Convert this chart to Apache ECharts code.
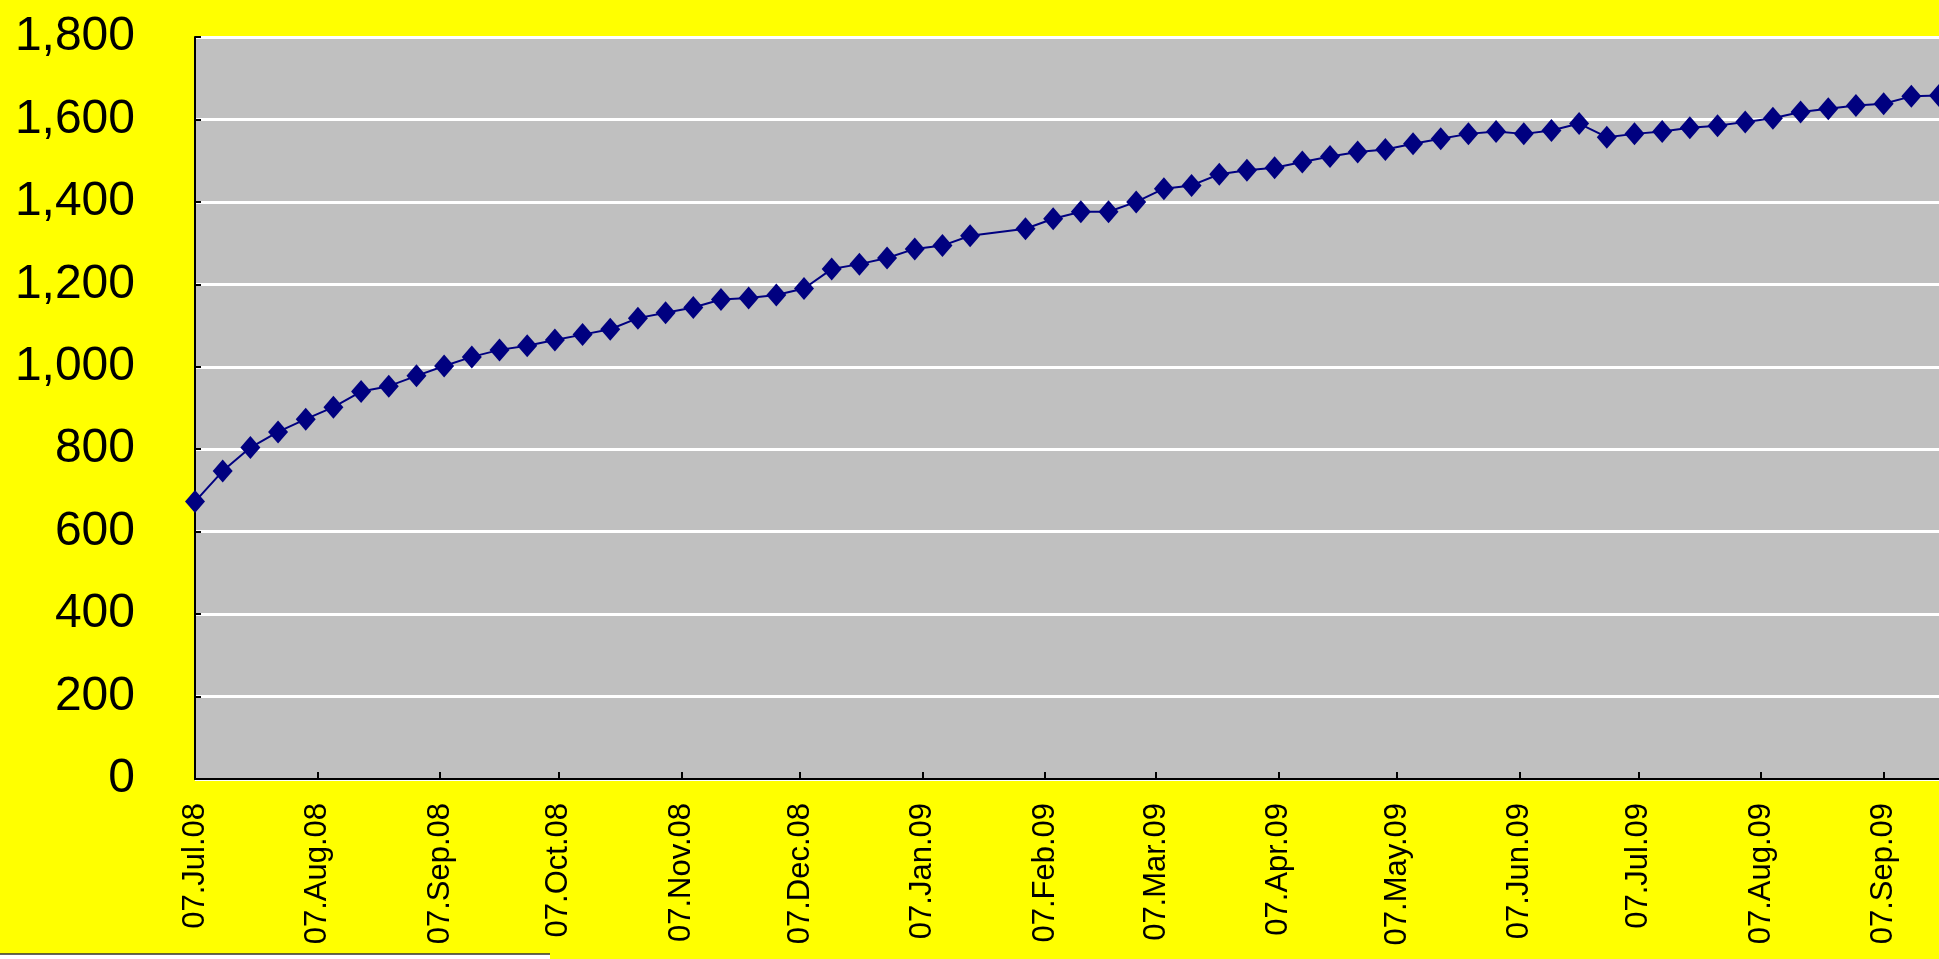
<!DOCTYPE html>
<html>
<head>
<meta charset="utf-8">
<script src="https://cdn.jsdelivr.net/npm/echarts@6/dist/echarts.min.js"></script>
<style>
html,body{margin:0;padding:0;background:#FFFF00;}
#chart{width:1939px;height:959px;}
</style>
</head>
<body>
<div id="chart"></div>
<script>
// Weekly observation dates (one week, 26 Jan 2009, has no point)
const dates = [
  "2008-07-07","2008-07-14","2008-07-21","2008-07-28","2008-08-04","2008-08-11","2008-08-18","2008-08-25",
  "2008-09-01","2008-09-08","2008-09-15","2008-09-22","2008-09-29","2008-10-06","2008-10-13","2008-10-20",
  "2008-10-27","2008-11-03","2008-11-10","2008-11-17","2008-11-24","2008-12-01","2008-12-08","2008-12-15",
  "2008-12-22","2008-12-29","2009-01-05","2009-01-12","2009-01-19","2009-02-02","2009-02-09","2009-02-16",
  "2009-02-23","2009-03-02","2009-03-09","2009-03-16","2009-03-23","2009-03-30","2009-04-06","2009-04-13",
  "2009-04-20","2009-04-27","2009-05-04","2009-05-11","2009-05-18","2009-05-25","2009-06-01","2009-06-08",
  "2009-06-15","2009-06-22","2009-06-29","2009-07-06","2009-07-13","2009-07-20","2009-07-27","2009-08-03",
  "2009-08-10","2009-08-17","2009-08-24","2009-08-31","2009-09-07","2009-09-14","2009-09-21"
];
const values = [
  673, 747, 804, 842, 873, 902, 940, 953,
  978, 1002, 1024, 1041, 1051, 1065, 1078, 1091,
  1118, 1131, 1144, 1163, 1167, 1174, 1190, 1237,
  1249, 1264, 1286, 1294, 1318, 1335, 1359, 1376,
  1376, 1400, 1432, 1440, 1467, 1477, 1483, 1497,
  1510, 1521, 1527, 1541, 1553, 1565, 1571, 1565,
  1573, 1590, 1557, 1565, 1571, 1580, 1585, 1594,
  1603, 1618, 1626, 1634, 1638, 1656, 1658
];
// Month tick labels shown on the axis
const tickLabels = [
  "07.Jul.08","07.Aug.08","07.Sep.08","07.Oct.08","07.Nov.08","07.Dec.08","07.Jan.09",
  "07.Feb.09","07.Mar.09","07.Apr.09","07.May.09","07.Jun.09","07.Jul.09","07.Aug.09","07.Sep.09"
];
const axisStart = "2008-07-07";
const axisEnd = "2009-09-21";
const yTicks = [0, 200, 400, 600, 800, 1000, 1200, 1400, 1600, 1800];

const MONTHS = ["Jan","Feb","Mar","Apr","May","Jun","Jul","Aug","Sep","Oct","Nov","Dec"];
function toUTC(s){ const p = s.split("-").map(Number); return Date.UTC(p[0], p[1]-1, p[2]); }
function fmt(t){
  const d = new Date(t);
  const dd = String(d.getUTCDate()).padStart(2,"0");
  const yy = String(d.getUTCFullYear() % 100).padStart(2,"0");
  return dd + "." + MONTHS[d.getUTCMonth()] + "." + yy;
}
const DAY = 86400000;
const t0 = toUTC(axisStart), t1 = toUTC(axisEnd);
const categories = [];
for (let t = t0; t <= t1; t += DAY) categories.push(fmt(t));
const labelSet = new Set(tickLabels);
const seriesData = dates.map((d, i) => [Math.round((toUTC(d) - t0) / DAY), values[i]]);

const chart = echarts.init(document.getElementById("chart"), null, {renderer: "canvas"});
chart.setOption({
  backgroundColor: "#FFFF00",
  animation: false,
  grid: {left: 195, right: 0, top: 37, bottom: 180, show: true, backgroundColor: "#C0C0C0", borderWidth: 0},
  xAxis: {
    type: "category",
    data: categories,
    boundaryGap: false,
    axisLine: {show: true, lineStyle: {color: "#000000", width: 2}},
    axisTick: {show: true, inside: true, length: 7, lineStyle: {color: "#000000", width: 2},
      interval: (idx, val) => labelSet.has(val)},
    axisLabel: {
      rotate: 90, margin: 24, color: "#000000", fontSize: 31,
      fontFamily: "Liberation Sans, Arial, sans-serif",
      interval: (idx, val) => labelSet.has(val)
    },
    splitLine: {show: false}
  },
  yAxis: {
    type: "value",
    min: yTicks[0], max: yTicks[yTicks.length - 1], interval: yTicks[1] - yTicks[0],
    axisLine: {show: true, lineStyle: {color: "#000000", width: 2}},
    axisTick: {show: true, inside: true, length: 6, lineStyle: {color: "#000000", width: 2}},
    axisLabel: {
      margin: 60, color: "#000000", fontSize: 48,
      fontFamily: "Liberation Sans, Arial, sans-serif",
      formatter: v => v.toLocaleString("en-US")
    },
    splitLine: {show: true, lineStyle: {color: "#FFFFFF", width: 3}}
  },
  series: [{
    type: "line",
    data: seriesData,
    showAllSymbol: true,
    symbol: "diamond",
    symbolSize: [20, 23],
    itemStyle: {color: "#000080"},
    lineStyle: {color: "#000080", width: 2},
    clip: false
  }],
  graphic: [
    {type: "rect", left: 0, top: 954, shape: {width: 550, height: 5}, style: {fill: "#FFFFFF"}, z: 100},
    {type: "line", shape: {x1: 0, y1: 954, x2: 550, y2: 954}, style: {stroke: "#333333", lineWidth: 1.5}, z: 101}
  ]
});
</script>
</body>
</html>
